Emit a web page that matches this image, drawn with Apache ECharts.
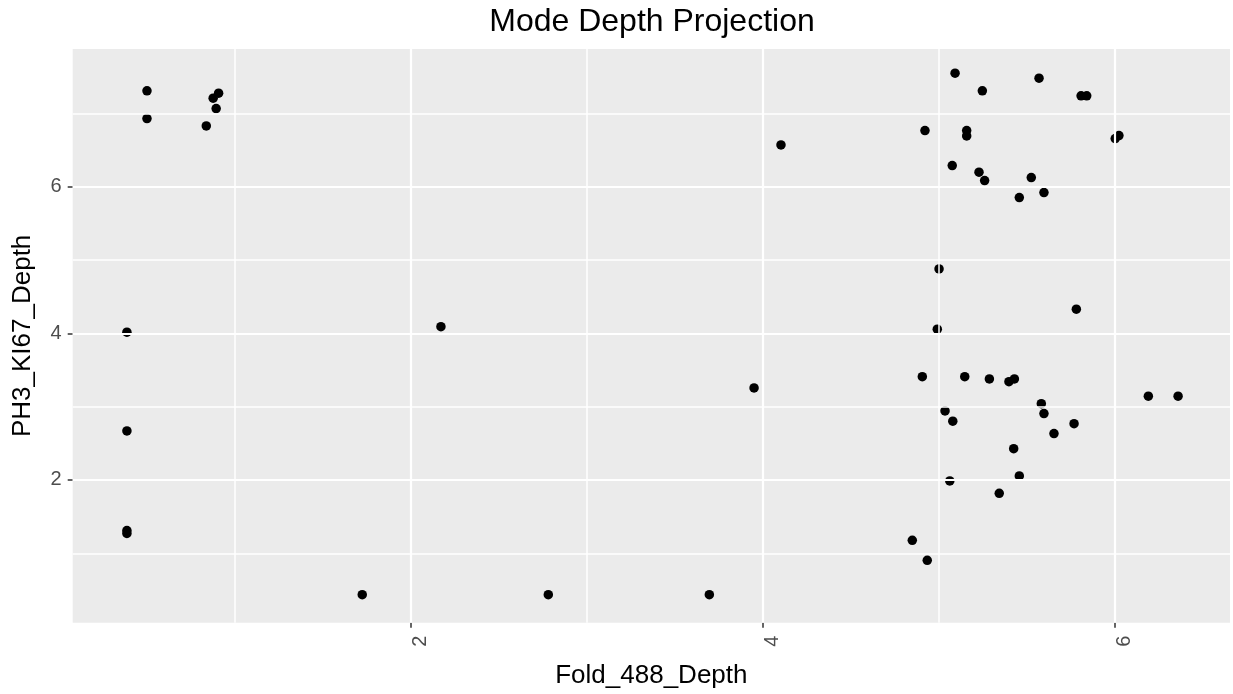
<!DOCTYPE html>
<html>
<head>
<meta charset="utf-8">
<title>Mode Depth Projection</title>
<script src="https://cdn.jsdelivr.net/npm/echarts@6/dist/echarts.min.js"></script>
<style>
  html, body { margin: 0; padding: 0; background: #ffffff; }
  #chart { width: 1233px; height: 694px; }
</style>
</head>
<body>
<div id="chart"></div>
<script>
// Per-sample mode depths (x: Fold_488, y: PH3_KI67)
const foldDepth = [
  0.502, 0.502, 0.839, 0.895, 0.878, 0.909,
  0.388, 0.388, 0.388, 0.388,
  1.725, 2.782, 3.697, 2.172, 3.951, 4.104,
  5.093, 5.248, 5.570, 5.809, 5.841, 4.922, 5.159, 5.159, 6.003, 6.024,
  5.077, 5.229, 5.261, 5.526, 5.458, 5.598,
  5.782, 4.992, 5.002, 4.907, 5.148, 5.288, 5.399, 5.430, 6.191, 6.360,
  5.583, 5.598, 5.036, 5.080, 5.769, 5.655, 5.426, 5.458, 5.063, 5.344,
  4.850, 4.935
];
const ph3Depth = [
  7.307, 6.929, 6.829, 7.066, 7.207, 7.275,
  4.015, 2.668, 1.270, 1.310,
  0.435, 0.435, 0.435, 4.090, 3.255, 6.570,
  7.548, 7.307, 7.480, 7.239, 7.239, 6.766, 6.766, 6.693, 6.656, 6.697,
  6.288, 6.198, 6.083, 6.124, 5.851, 5.920,
  4.329, 4.056, 4.879, 3.409, 3.409, 3.378, 3.341, 3.378, 3.142, 3.142,
  3.041, 2.905, 2.941, 2.801, 2.768, 2.632, 2.427, 2.055, 1.986, 1.818,
  1.177, 0.904
];

// Axis ranges and breaks
const xRange = [0.08, 6.655];
const yRange = [0.053, 7.878];
const xMajor = [2, 4, 6];
const xMinor = [1, 3, 5];
const yMajor = [2, 4, 6];
const yMinor = [1, 3, 5, 7];

const points = foldDepth.map((x, i) => [x, ph3Depth[i]]);

const textColor = '#4D4D4D';
const font = 'Liberation Sans, Arial, sans-serif';

function gridLines(values, axisKey, width) {
  return values.map(v => ({
    [axisKey]: v,
    lineStyle: { color: '#FFFFFF', width: width, type: 'solid' }
  }));
}

const chart = echarts.init(document.getElementById('chart'), null, { renderer: 'canvas' });

chart.setOption({
  animation: false,
  backgroundColor: '#FFFFFF',
  title: {
    text: 'Mode Depth Projection',
    left: 647,
    top: 1,
    textAlign: 'center',
    textStyle: { color: '#000000', fontSize: 32, fontWeight: 'normal', fontFamily: font }
  },
  grid: {
    left: 72.7,
    right: 3,
    top: 49,
    bottom: 71.3,
    show: true,
    backgroundColor: '#EBEBEB',
    borderWidth: 0
  },
  xAxis: {
    type: 'value',
    min: xRange[0],
    max: xRange[1],
    name: 'Fold_488_Depth',
    nameLocation: 'middle',
    nameGap: 40,
    nameTextStyle: { color: '#000000', fontSize: 26, fontFamily: font },
    axisLine: { show: false },
    splitLine: { show: false },
    axisTick: {
      show: true,
      customValues: xMajor,
      length: 5,
      lineStyle: { color: '#333333', width: 1.5 }
    },
    axisLabel: {
      customValues: xMajor,
      rotate: 90,
      margin: 13,
      verticalAlign: 'top',
      color: textColor,
      fontSize: 20,
      fontFamily: font
    }
  },
  yAxis: {
    type: 'value',
    min: yRange[0],
    max: yRange[1],
    name: 'PH3_KI67_Depth',
    nameLocation: 'middle',
    nameGap: 37,
    nameRotate: 90,
    nameTextStyle: { color: '#000000', fontSize: 26, fontFamily: font },
    axisLine: { show: false },
    splitLine: { show: false },
    axisTick: {
      show: true,
      customValues: yMajor,
      length: 5,
      lineStyle: { color: '#333333', width: 1.5 }
    },
    axisLabel: {
      customValues: yMajor,
      margin: 11,
      color: textColor,
      fontSize: 20,
      fontFamily: font
    }
  },
  series: [
    {
      // panel grid lines
      type: 'scatter',
      data: [],
      z: 1,
      silent: true,
      markLine: {
        silent: true,
        symbol: ['none', 'none'],
        label: { show: false },
        animation: false,
        data: [
          ...gridLines(xMinor, 'xAxis', 1.5),
          ...gridLines(yMinor, 'yAxis', 1.5),
          ...gridLines(xMajor, 'xAxis', 2.2),
          ...gridLines(yMajor, 'yAxis', 2.2)
        ]
      }
    },
    {
      type: 'scatter',
      data: points,
      z: 3,
      symbol: 'circle',
      symbolSize: 9.5,
      itemStyle: { color: '#000000', opacity: 1 }
    }
  ]
});
</script>
</body>
</html>
